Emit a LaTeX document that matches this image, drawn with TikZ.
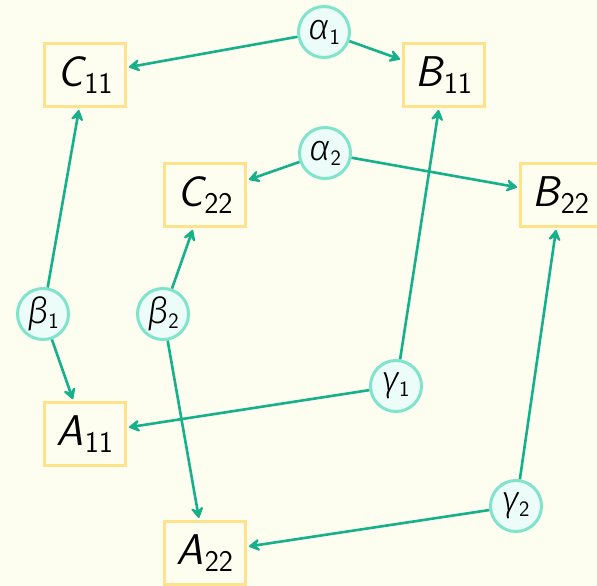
\documentclass[tikz,border=0pt]{standalone}
\usepackage{fontspec}
\newfontfamily\grkfont{Fira Sans}[UprightFont={* Light}, ItalicFont={* Light Italic}]
\usetikzlibrary{arrows.meta}
\definecolor{bgc}{RGB}{253,253,240}
\definecolor{boxc}{RGB}{255,226,140}
\definecolor{circc}{RGB}{128,228,204}
\definecolor{circf}{RGB}{236,252,248}
\definecolor{arrc}{RGB}{22,176,138}
\tikzset{
  matbox/.style={draw=boxc, line width=3pt, fill=bgc, minimum width=81pt, minimum height=63pt, inner sep=0pt},
  scal/.style={circle, draw=circc, line width=3pt, fill=circf, minimum size=51pt, inner sep=0pt},
  link/.style={draw=arrc, line width=2.6pt, -{Stealth[length=14pt,width=16pt,inset=6pt,round]}, shorten >=2pt}
}
\newcommand{\boxlab}[2]{{\fontsize{43}{48}\selectfont\sffamily\itshape #1}\kern1pt\raisebox{-7pt}{\fontsize{30}{34}\selectfont\sffamily #2}}
\newcommand{\scallab}[2]{{\fontsize{36}{40}\selectfont\grkfont\itshape #1}\raisebox{-5pt}{\fontsize{22}{25}\selectfont\sffamily #2}}
\begin{document}
\begin{tikzpicture}[x=1pt,y=-1pt]
\fill[bgc] (0,0) rectangle (597,586);
\clip (0,0) rectangle (597,586);
\useasboundingbox (0,0) rectangle (597,586);
\node[matbox] (C11) at (85,75) {\boxlab{C}{11}};
\node[matbox] (B11) at (444,75) {\boxlab{B}{11}};
\node[matbox] (C22) at (205,195) {\boxlab{C}{22}};
\node[matbox] (B22) at (561,195) {\boxlab{B}{22}};
\node[matbox] (A11) at (85,434) {\boxlab{A}{11}};
\node[matbox] (A22) at (205,553) {\boxlab{A}{22}};
\node[scal] (a1) at (324,32) {\scallab{α}{1}};
\node[scal] (a2) at (325,153) {\scallab{α}{2}};
\node[scal] (b1) at (43,314) {\scallab{β}{1}};
\node[scal] (b2) at (163,314) {\scallab{β}{2}};
\node[scal] (g1) at (396,386) {\scallab{γ}{1}};
\node[scal] (g2) at (516,506) {\scallab{γ}{2}};
\draw[link] (a1) -- (C11);
\draw[link] (a1) -- (B11);
\draw[link] (a2) -- (C22);
\draw[link] (a2) -- (B22);
\draw[link] (b1) -- (C11);
\draw[link] (b1) -- (A11);
\draw[link] (b2) -- (C22);
\draw[link] (b2) -- (A22);
\draw[link] (g1) -- (A11);
\draw[link] (g1) -- (B11);
\draw[link] (g2) -- (A22);
\draw[link] (g2) -- (B22);
\end{tikzpicture}
\end{document}
